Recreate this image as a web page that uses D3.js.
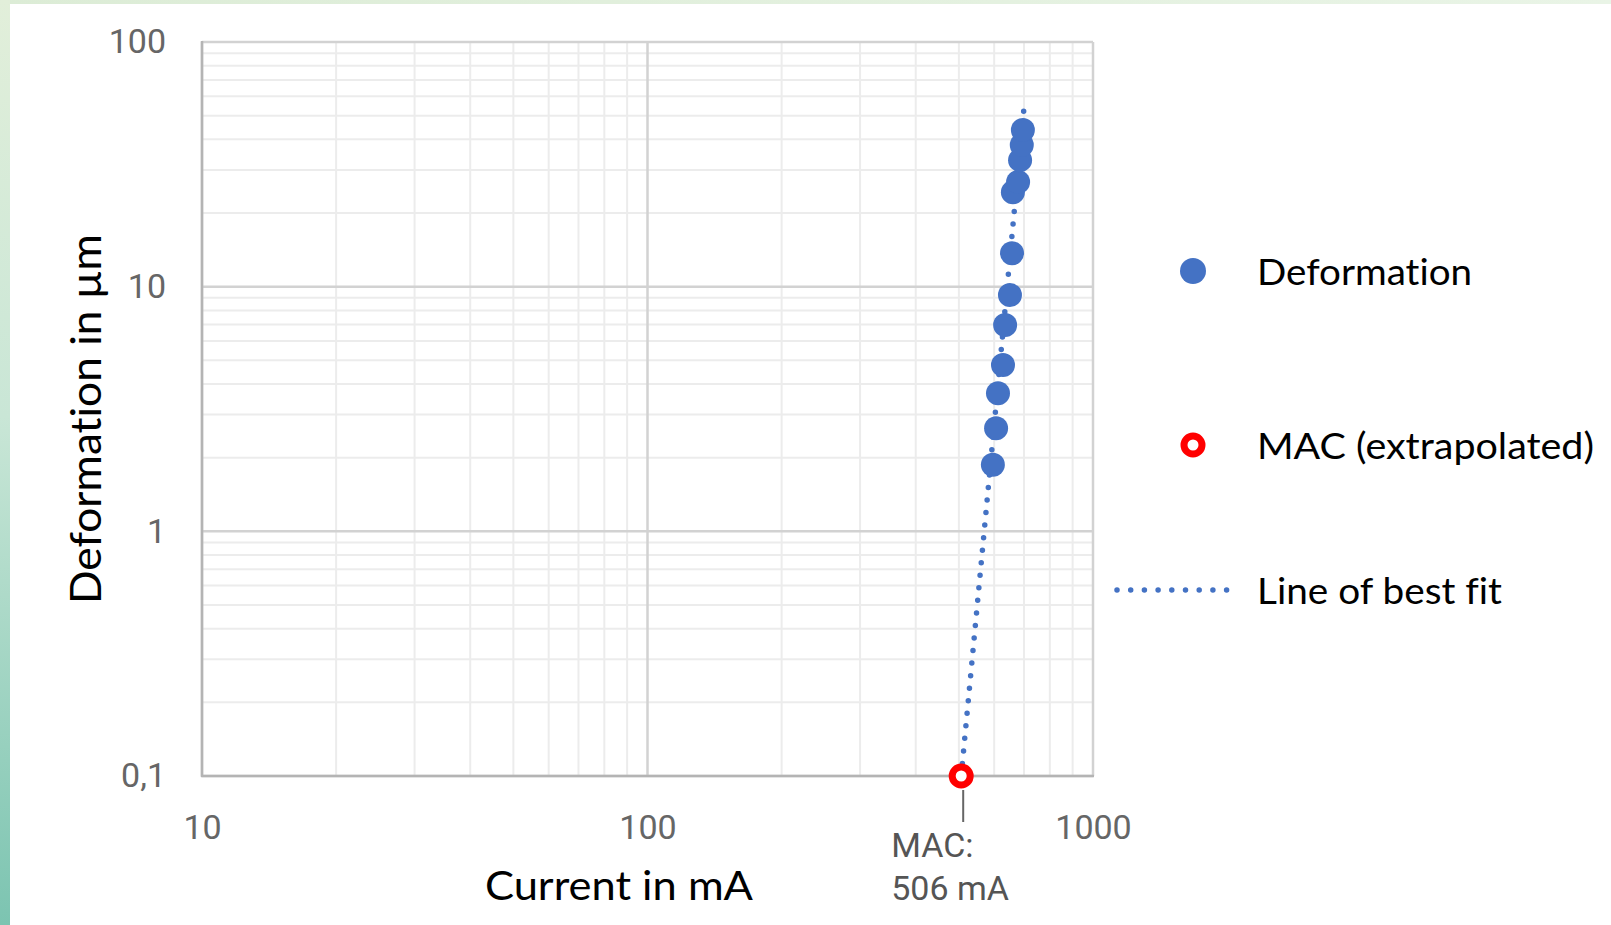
<!DOCTYPE html>
<html>
<head>
<meta charset="utf-8">
<script src="https://cdn.jsdelivr.net/npm/d3@7/dist/d3.min.js"></script>
<style>
  html, body { margin: 0; padding: 0; background: #ffffff; }
  svg { display: block; }
  text { font-variant-ligatures: none; font-feature-settings: "liga" 0, "clig" 0; }
</style>
</head>
<body>
<svg id="chart" width="1611" height="925"></svg>
<script>
// ---------- data ----------
const currentMA   = [596, 606, 612, 628, 635, 651, 658, 661, 679, 686, 692, 696];
const deformation = [1.87, 2.64, 3.67, 4.78, 6.97, 9.24, 13.7, 24.3, 26.8, 32.9, 37.9, 43.7];
const macCurrent  = [506];
const macDeform   = [0.1];
const fitCurrent  = [506, 700];
const fitDeform   = [0.1, 53.9];
const xTickValues = [10, 100, 1000];
const xTickLabels = ["10", "100", "1000"];
const yTickValues = [0.1, 1, 10, 100];
const yTickLabels = ["0,1", "1", "10", "100"];
const legendLabels = ["Deformation", "MAC (extrapolated)", "Line of best fit"];
const macLabelLines = ["MAC:", "506 mA"];
const xTitle = "Current in mA";
const yTitle = "Deformation in µm";

// ---------- layout ----------
const W = 1611, H = 925;
const L = 202, R = 1093, T = 42, B = 776;
const blue = "#4472C4", red = "#FF0000";

const svg = d3.select("#chart");

// background decoration (left / top green strip)
const defs = svg.append("defs");
const gl = defs.append("linearGradient").attr("id", "leftStrip")
  .attr("x1", 0).attr("y1", 0).attr("x2", 0).attr("y2", 1);
gl.append("stop").attr("offset", "0%").attr("stop-color", "#e2efda");
gl.append("stop").attr("offset", "45%").attr("stop-color", "#c9e6d6");
gl.append("stop").attr("offset", "100%").attr("stop-color", "#7cc4b1");
const gt = defs.append("linearGradient").attr("id", "topStrip")
  .attr("x1", 0).attr("y1", 0).attr("x2", 1).attr("y2", 0);
gt.append("stop").attr("offset", "0%").attr("stop-color", "#dcecd6");
gt.append("stop").attr("offset", "100%").attr("stop-color", "#e9f4e6");

svg.append("rect").attr("x", 0).attr("y", 0).attr("width", W).attr("height", H).attr("fill", "#ffffff");
svg.append("rect").attr("x", 0).attr("y", 0).attr("width", W).attr("height", 4).attr("fill", "url(#topStrip)");
svg.append("rect").attr("x", 0).attr("y", 0).attr("width", 10).attr("height", H).attr("fill", "url(#leftStrip)");

// ---------- scales ----------
const x = d3.scaleLog().domain([10, 1000]).range([L, R]);
const y = d3.scaleLog().domain([0.1, 100]).range([B, T]);
const isMajor = v => Math.abs(Math.log10(v) - Math.round(Math.log10(v))) < 1e-9;

// ---------- grid ----------
const grid = svg.append("g");
const xt = x.ticks();
const yt = y.ticks();
grid.selectAll("line.xminor").data(xt.filter(v => !isMajor(v))).join("line")
  .attr("x1", d => x(d)).attr("x2", d => x(d)).attr("y1", T).attr("y2", B)
  .attr("stroke", "#ececec").attr("stroke-width", 2);
grid.selectAll("line.yminor").data(yt.filter(v => !isMajor(v))).join("line")
  .attr("x1", L).attr("x2", R).attr("y1", d => y(d)).attr("y2", d => y(d))
  .attr("stroke", "#ececec").attr("stroke-width", 2);
grid.selectAll("line.xmajor").data(xt.filter(isMajor)).join("line")
  .attr("x1", d => x(d)).attr("x2", d => x(d)).attr("y1", T).attr("y2", B)
  .attr("stroke", "#d2d2d2").attr("stroke-width", 2.5);
grid.selectAll("line.ymajor").data(yt.filter(isMajor)).join("line")
  .attr("x1", L).attr("x2", R).attr("y1", d => y(d)).attr("y2", d => y(d))
  .attr("stroke", "#d2d2d2").attr("stroke-width", 2.5);

// axis lines
svg.append("line").attr("x1", L).attr("x2", L).attr("y1", T - 1).attr("y2", B + 1)
  .attr("stroke", "#b4b4b4").attr("stroke-width", 2.5);
svg.append("line").attr("x1", L - 1).attr("x2", R + 1).attr("y1", B).attr("y2", B)
  .attr("stroke", "#b4b4b4").attr("stroke-width", 2.5);

// ---------- axes (labels) ----------
const xAxis = d3.axisBottom(x).tickValues(xTickValues)
  .tickFormat((d, i) => xTickLabels[i]).tickSize(0).tickPadding(39);
const gx = svg.append("g").attr("transform", `translate(0,${B})`).call(xAxis);
gx.select(".domain").remove();
gx.selectAll("text").attr("font-family", "Roboto, 'Liberation Sans', Arial, sans-serif")
  .attr("font-size", 34).attr("fill", "#666666");

const yAxis = d3.axisLeft(y).tickValues(yTickValues)
  .tickFormat((d, i) => yTickLabels[i]).tickSize(0).tickPadding(36);
const gy = svg.append("g").attr("transform", `translate(${L},0)`).call(yAxis);
gy.select(".domain").remove();
gy.selectAll("text").attr("font-family", "Roboto, 'Liberation Sans', Arial, sans-serif")
  .attr("font-size", 34).attr("fill", "#666666");

// axis titles
svg.append("text").attr("x", 619).attr("y", 900).attr("text-anchor", "middle")
  .attr("font-family", "Lato, 'Open Sans', sans-serif").attr("font-size", 40)
  .attr("textLength", 268).attr("lengthAdjust", "spacingAndGlyphs")
  .attr("fill", "#000").text(xTitle);
svg.append("text").attr("transform", "translate(101,419) rotate(-90)")
  .attr("text-anchor", "middle")
  .attr("font-family", "Lato, 'Open Sans', sans-serif").attr("font-size", 43)
  .attr("textLength", 370).attr("lengthAdjust", "spacingAndGlyphs")
  .attr("fill", "#000").text(yTitle);

// ---------- line of best fit ----------
const fitData = fitCurrent.map((c, i) => [c, fitDeform[i]]);
svg.append("path").datum(fitData)
  .attr("d", d3.line().x(d => x(d[0])).y(d => y(d[1])))
  .attr("fill", "none").attr("stroke", blue).attr("stroke-width", 5.5)
  .attr("stroke-linecap", "round").attr("stroke-dasharray", "0 12.6");

// ---------- deformation points ----------
const pts = currentMA.map((c, i) => [c, deformation[i]]);
svg.append("g").selectAll("circle").data(pts).join("circle")
  .attr("cx", d => x(d[0])).attr("cy", d => y(d[1])).attr("r", 12)
  .attr("fill", blue);

// ---------- MAC point + annotation ----------
const mac = macCurrent.map((c, i) => [c, macDeform[i]]);
svg.append("g").selectAll("line").data(mac).join("line")
  .attr("x1", d => x(d[0]) + 2).attr("x2", d => x(d[0]) + 2)
  .attr("y1", d => y(d[1]) + 14).attr("y2", d => y(d[1]) + 46)
  .attr("stroke", "#666666").attr("stroke-width", 2);
svg.append("g").selectAll("circle").data(mac).join("circle")
  .attr("cx", d => x(d[0])).attr("cy", d => y(d[1])).attr("r", 9)
  .attr("fill", "#ffffff").attr("stroke", red).attr("stroke-width", 7);
const macText = svg.append("text")
  .attr("font-family", "Roboto, 'Liberation Sans', Arial, sans-serif")
  .attr("font-size", 34).attr("fill", "#555555");
macText.selectAll("tspan").data(macLabelLines).join("tspan")
  .attr("x", x(macCurrent[0]) - 70).attr("y", (d, i) => 857 + i * 42.5).text(d => d);

// ---------- legend ----------
const lg = svg.append("g").attr("font-family", "Lato, 'Open Sans', sans-serif")
  .attr("font-size", 37).attr("fill", "#000");
const legendY = [271, 445, 590];
const legendW = [215, 337, 245];
lg.append("circle").attr("cx", 1193).attr("cy", legendY[0]).attr("r", 13).attr("fill", blue);
lg.append("circle").attr("cx", 1193).attr("cy", legendY[1]).attr("r", 9)
  .attr("fill", "#fff").attr("stroke", red).attr("stroke-width", 7);
lg.append("line").attr("x1", 1117).attr("x2", 1228).attr("y1", legendY[2]).attr("y2", legendY[2])
  .attr("stroke", blue).attr("stroke-width", 5.5).attr("stroke-linecap", "round")
  .attr("stroke-dasharray", "0 13.7");
lg.selectAll("text").data(legendLabels).join("text")
  .attr("x", 1257).attr("y", (d, i) => legendY[i] + 14)
  .attr("textLength", (d, i) => legendW[i]).attr("lengthAdjust", "spacingAndGlyphs")
  .text(d => d);
</script>
</body>
</html>
